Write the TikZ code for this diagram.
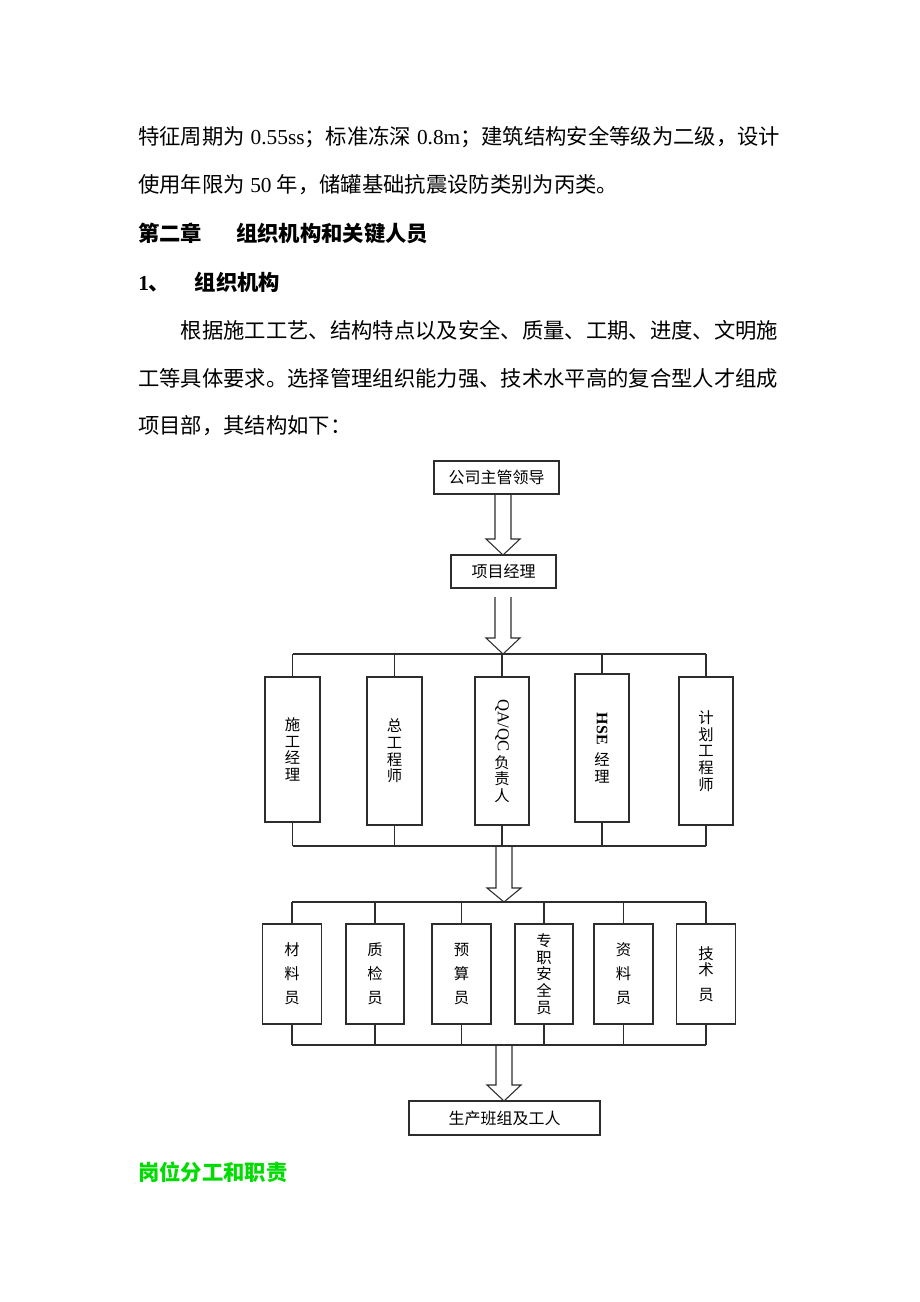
\documentclass[tikz,border=0pt]{standalone}
\usepackage{fontspec}
\usepackage{graphicx}
\setmainfont{Noto Sans CJK SC}
\newfontfamily\tnr{Liberation Serif}
\definecolor{hgreen}{RGB}{0,220,0}
\definecolor{linec}{RGB}{45,45,45}
\newcommand\fatarrow[4]{%
  \fill[white] (#1-8,#2) -- (#1-8,#3) -- (#1-17,#3) -- (#1,#4) -- (#1+17,#3) -- (#1+8,#3) -- (#1+8,#2) -- cycle;
  \draw[bigarrow] (#1-8,#2) -- (#1-8,#3) -- (#1-17,#3) -- (#1,#4) -- (#1+17,#3) -- (#1+8,#3) -- (#1+8,#2);}
\begin{document}
\begin{tikzpicture}[x={(0.75pt,0)}, y={(0,-0.75pt)},
  body/.style={anchor=west, inner sep=0, font=\fontsize{16}{16}\selectfont},
  bodyb/.style={body, font=\fontsize{16}{16}\selectfont\bfseries},
  box/.style={draw=linec, line width=0.8pt, inner sep=0, fill=white, font=\fontsize{12}{14}\selectfont},
  vbox/.style={box, align=center, font=\fontsize{11.5}{12.5}\selectfont},
  wbox/.style={box, align=center, font=\fontsize{11.5}{18}\selectfont},
  conn/.style={draw=linec, line width=0.8pt},
  bigarrow/.style={draw=linec, line width=0.8pt}]
\useasboundingbox[fill=white] (0,0) rectangle (920,1302);

% ---- text ----
\node[body] (t1) at (138,137) {\hbox to 481.5pt{特征周期为\hfil{\tnr 0.55ss}；标准冻深\hfil{\tnr 0.8m}；建筑结构安全等级为二级，设计}};
\node[body] (t2) at (138,185) {使用年限为\hspace{4pt}{\tnr 50}\hspace{4pt}年，储罐基础抗震设防类别为丙类。};
\node[bodyb] (h1) at (138,233) {第二章\hspace{25.5pt}组织机构和关键人员};
\node[bodyb] (h2) at (138,282) {{\tnr\bfseries 1}、\hspace{18.5pt}组织机构};
\node[body] (p1) at (180.7,330) {根据施工工艺、结构特点以及安全、质量、工期、进度、文明施};
\node[body] (p2) at (138,378) {工等具体要求。选择管理组织能力强、技术水平高的复合型人才组成};
\node[body] (p3) at (138,426) {项目部，其结构如下：};
\node[bodyb, text=hgreen] (g1) at (138,1172) {岗位分工和职责};

% ---- arrows ----
\fatarrow{503}{494}{539}{555}
\fatarrow{503}{597}{638}{654}
\fatarrow{504}{846}{888}{902}
\fatarrow{504}{1045}{1085}{1101}

% ---- boxes ----
\node[box, minimum width=125*0.75pt, minimum height=33*0.75pt] (lead) at (496.5,477.5) {公司主管领导};
\node[box, minimum width=105*0.75pt, minimum height=33*0.75pt] (pm) at (503.5,571.5) {项目经理};

\node[vbox, minimum width=55*0.75pt, minimum height=145*0.75pt] (a1) at (292.5,749.5) {施\\工\\经\\理};
\node[vbox, minimum width=55*0.75pt, minimum height=148*0.75pt] (a2) at (394.5,751) {总\\工\\程\\师};
\node[vbox, minimum width=54*0.75pt, minimum height=148*0.75pt] (a3) at (502,751) {\rotatebox{-90}{\fontsize{12.5}{14}\tnr\selectfont QA/QC}\\[2pt]负\\责\\人};
\node[vbox, minimum width=54*0.75pt, minimum height=148*0.75pt] (a4) at (602,748) {\rotatebox{-90}{\fontsize{12}{14}\tnr\bfseries\selectfont HSE}\\[5pt]经\\理};
\node[vbox, minimum width=54*0.75pt, minimum height=148*0.75pt] (a5) at (706,751) {计\\划\\工\\程\\师};

\node[wbox, minimum width=59*0.75pt, minimum height=100*0.75pt] (b1) at (292,974) {材\\料\\员};
\node[wbox, minimum width=58*0.75pt, minimum height=100*0.75pt] (b2) at (375,974) {质\\检\\员};
\node[wbox, minimum width=59*0.75pt, minimum height=100*0.75pt] (b3) at (461.5,974) {预\\算\\员};
\node[vbox, minimum width=58*0.75pt, minimum height=100*0.75pt] (b4) at (544,974) {专\\职\\安\\全\\员};
\node[wbox, minimum width=59*0.75pt, minimum height=100*0.75pt] (b5) at (623.5,974) {资\\料\\员};
\node[vbox, minimum width=59*0.75pt, minimum height=100*0.75pt] (b6) at (706,974) {技\\术\\[6pt]员};

\node[box, minimum width=191*0.75pt, minimum height=34*0.75pt] (work) at (504.5,1118) {生产班组及工人};

% ---- buses ----
\coordinate (u1) at (0,654);
\coordinate (l1) at (0,846);
\coordinate (u2) at (0,902);
\coordinate (l2) at (0,1045);
\draw[conn] (a1.north |- u1) -- (a5.north |- u1);
\draw[conn] (a1.south |- l1) -- (a5.south |- l1);
\foreach \n in {a1,a2,a3,a4,a5}{
  \draw[conn] (\n.north) -- (\n.north |- u1);
  \draw[conn] (\n.south) -- (\n.south |- l1);
}
\draw[conn] (b1.north |- u2) -- (b6.north |- u2);
\draw[conn] (b1.south |- l2) -- (b6.south |- l2);
\foreach \n in {b1,b2,b3,b4,b5,b6}{
  \draw[conn] (\n.north) -- (\n.north |- u2);
  \draw[conn] (\n.south) -- (\n.south |- l2);
}
\end{tikzpicture}
\end{document}
